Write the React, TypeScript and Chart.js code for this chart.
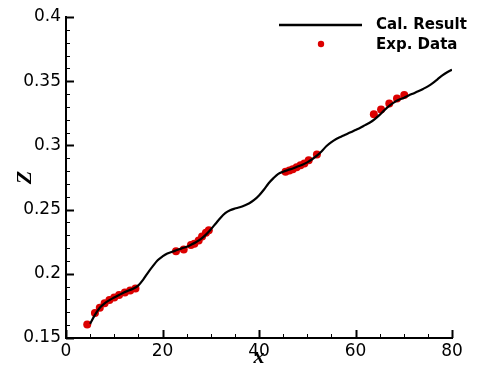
import { useEffect, useRef } from 'react';
import { Chart, registerables } from 'chart.js';

Chart.register(...registerables);

const curveX = [5, 6, 7, 8, 9, 10, 11, 12, 13, 14, 15, 16, 17, 18, 19, 20, 21, 22, 23, 24, 25, 26, 27, 28, 29, 30, 31, 32, 33, 34, 35, 36, 37, 38, 39, 40, 41, 42, 43, 44, 45, 46, 47, 48, 49, 50, 51, 52, 53, 54, 55, 56, 57, 58, 59, 60, 61, 62, 63, 64, 65, 66, 67, 68, 69, 70, 71, 72, 73, 74, 75, 76, 77, 78, 79, 80];
const curveZ = [0.161, 0.168, 0.1735, 0.177, 0.1795, 0.1815, 0.1835, 0.1855, 0.187, 0.1885, 0.191, 0.1955, 0.201, 0.206, 0.2105, 0.2135, 0.2158, 0.2172, 0.2185, 0.2198, 0.221, 0.2228, 0.2248, 0.2272, 0.2305, 0.2345, 0.239, 0.2435, 0.2472, 0.2495, 0.2508, 0.2518, 0.2532, 0.255, 0.2575, 0.261, 0.2655, 0.2705, 0.2745, 0.2778, 0.2795, 0.2808, 0.282, 0.2835, 0.285, 0.2868, 0.2892, 0.292, 0.2955, 0.2995, 0.3025, 0.305, 0.3068, 0.3085, 0.3102, 0.312, 0.3138, 0.3158, 0.3178, 0.3205, 0.3238, 0.3275, 0.3308, 0.3335, 0.3355, 0.337, 0.3388, 0.3405, 0.3422, 0.344, 0.346, 0.3485, 0.3515, 0.3545, 0.357, 0.359];

const expX = [4.4, 6.0, 7.0, 8.0, 9.0, 10.0, 11.0, 12.2, 13.3, 14.4, 22.8, 24.4, 25.9, 26.6, 27.5, 28.2, 29.0, 29.6, 45.5, 46.3, 47.0, 47.8, 48.6, 49.4, 50.3, 52.0, 63.8, 65.3, 67.0, 68.6, 70.1];
const expZ = [0.1605, 0.1695, 0.1735, 0.177, 0.1795, 0.1815, 0.1835, 0.1855, 0.187, 0.1885, 0.2175, 0.219, 0.2225, 0.2235, 0.226, 0.229, 0.232, 0.234, 0.2795, 0.2805, 0.2815, 0.283, 0.2845, 0.286, 0.2885, 0.293, 0.3242, 0.328, 0.3327, 0.3366, 0.3392];

const xTicks = [0, 20, 40, 60, 80];
const zTicks = [0.15, 0.2, 0.25, 0.3, 0.35, 0.4];
const xMinorTicks = [0, 5, 10, 15, 20, 25, 30, 35, 40, 45, 50, 55, 60, 65, 70, 75, 80];
const zMinorTicks = [0.15, 0.16, 0.17, 0.18, 0.19, 0.2, 0.21, 0.22, 0.23, 0.24, 0.25, 0.26, 0.27, 0.28, 0.29, 0.3, 0.31, 0.32, 0.33, 0.34, 0.35, 0.36, 0.37, 0.38, 0.39, 0.4];
const seriesNames = ['Cal. Result', 'Exp. Data'];

const RED = '#dc0000';

const axisTicksPlugin = {
  id: 'axisTicks',
  afterDraw(chart: any) {
    const { ctx, chartArea, scales } = chart;
    const xs = scales.x;
    const ys = scales.y;
    ctx.save();
    ctx.strokeStyle = '#000';
    ctx.lineCap = 'butt';
    xMinorTicks.forEach((v) => {
      const major = xTicks.some((t) => Math.abs(t - v) < 1e-9);
      const px = Math.round(xs.getPixelForValue(v)) + 0.5;
      ctx.lineWidth = major ? 2 : 1;
      ctx.beginPath();
      ctx.moveTo(px, chartArea.bottom);
      ctx.lineTo(px, chartArea.bottom - (major ? 8 : 4));
      ctx.stroke();
    });
    zMinorTicks.forEach((v) => {
      const major = zTicks.some((t) => Math.abs(t - v) < 1e-9);
      const py = Math.round(ys.getPixelForValue(v)) + 0.5;
      ctx.lineWidth = major ? 2 : 1;
      ctx.beginPath();
      ctx.moveTo(chartArea.left, py);
      ctx.lineTo(chartArea.left + (major ? 8 : 4), py);
      ctx.stroke();
    });
    ctx.restore();
  },
};

const legendPlugin = {
  id: 'customLegend',
  afterDraw(chart: any) {
    const { ctx } = chart;
    const ds = chart.data.datasets;
    ctx.save();
    ctx.strokeStyle = ds[0].borderColor;
    ctx.lineWidth = 2.5;
    ctx.beginPath();
    ctx.moveTo(279, 25);
    ctx.lineTo(362, 25);
    ctx.stroke();
    ctx.fillStyle = ds[1].backgroundColor;
    ctx.beginPath();
    ctx.arc(321, 44, 3.2, 0, Math.PI * 2);
    ctx.fill();
    ctx.fillStyle = '#000';
    ctx.font = 'bold 15px "DejaVu Sans"';
    ctx.textAlign = 'left';
    ctx.textBaseline = 'middle';
    ctx.fillText(ds[0].label, 376, 25);
    ctx.fillText(ds[1].label, 376, 45);
    ctx.restore();
  },
};

export default function App() {
  const ref = useRef<HTMLCanvasElement | null>(null);
  useEffect(() => {
    if (!ref.current) return;
    const chart = new Chart(ref.current, {
      type: 'scatter',
      data: {
        datasets: [
          {
            label: seriesNames[0],
            data: curveX.map((x, i) => ({ x, y: curveZ[i] })),
            showLine: true,
            borderColor: '#000000',
            backgroundColor: '#000000',
            borderWidth: 2.2,
            pointRadius: 0,
            cubicInterpolationMode: 'monotone',
          },
          {
            label: seriesNames[1],
            data: expX.map((x, i) => ({ x, y: expZ[i] })),
            showLine: false,
            backgroundColor: RED,
            borderColor: RED,
            borderWidth: 0,
            pointRadius: 4,
          },
        ],
      },
      options: {
        responsive: false,
        animation: false,
        layout: { padding: { left: 0, right: 26, top: 17, bottom: 0 } },
        plugins: { legend: { display: false }, tooltip: { enabled: false } },
        scales: {
          x: {
            type: 'linear',
            min: 0,
            max: 80,
            afterBuildTicks: (s: any) => {
              s.ticks = xTicks.map((v) => ({ value: v }));
            },
            afterFit: (s: any) => {
              s.height = 36;
            },
            grid: { display: false, drawTicks: false },
            border: { display: true, color: '#000', width: 2 },
            ticks: {
              padding: 3,
              color: '#000',
              font: { family: '"DejaVu Sans"', size: 17 },
              maxRotation: 0,
              callback: (v: any) => String(v),
            },
            title: {
              display: true,
              text: 'x',
              color: '#000',
              font: { family: '"Liberation Serif"', size: 22, style: 'italic', weight: 'bold' },
              padding: { top: 0, bottom: 3 },
            },
          },
          y: {
            type: 'linear',
            min: 0.15,
            max: 0.4,
            afterBuildTicks: (s: any) => {
              s.ticks = zTicks.map((v) => ({ value: v }));
            },
            afterFit: (s: any) => {
              s.width = 66;
            },
            grid: { display: false, drawTicks: false },
            border: { display: true, color: '#000', width: 2 },
            ticks: {
              padding: 5,
              color: '#000',
              font: { family: '"DejaVu Sans"', size: 17 },
              callback: (v: any) => String(Number(Number(v).toFixed(2))),
            },
            title: {
              display: true,
              text: 'Z',
              color: '#000',
              font: { family: '"Liberation Serif"', size: 22, style: 'italic', weight: 'bold' },
              padding: { top: 12, bottom: 0 },
            },
          },
        },
      },
      plugins: [axisTicksPlugin, legendPlugin],
    } as any);
    return () => chart.destroy();
  }, []);
  return (
    <div style={{ position: 'fixed', left: 0, top: 0, width: 478, height: 374, background: '#fff' }}>
      <canvas ref={ref} width={478} height={374} style={{ display: 'block' }} />
    </div>
  );
}
